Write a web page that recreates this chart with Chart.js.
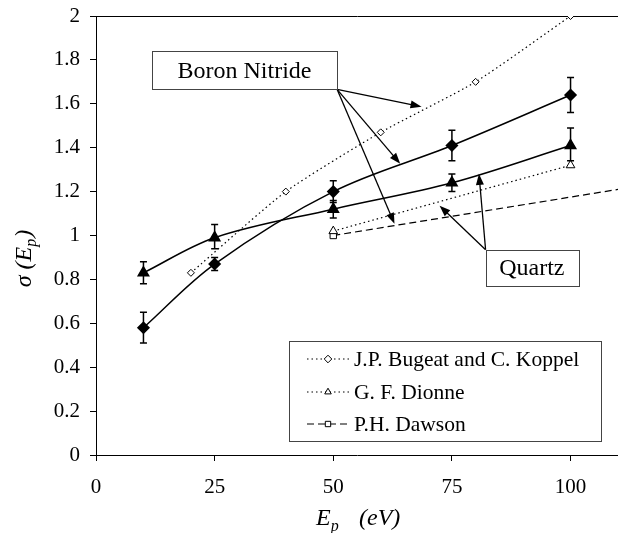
<!DOCTYPE html>
<html>
<head>
<meta charset="utf-8">
<script src="https://cdn.jsdelivr.net/npm/chart.js@4.4.1/dist/chart.umd.min.js"></script>
<style>
  html, body { margin: 0; padding: 0; background: #fff; }
  #wrap { width: 618px; height: 533px; }
</style>
</head>
<body>
<div id="wrap"><canvas id="chart" width="618" height="533"></canvas></div>
<script>
// measured data, E_p in eV
const bnX = [10, 25, 50, 75, 100];
const bnY = [0.58, 0.87, 1.20, 1.41, 1.64];
const bnLo = [0.51, 0.84, 1.15, 1.34, 1.56];
const bnHi = [0.65, 0.90, 1.25, 1.48, 1.72];

const qzX = [10, 25, 50, 75, 100];
const qzY = [0.83, 0.99, 1.12, 1.24, 1.41];
const qzLo = [0.78, 0.94, 1.08, 1.20, 1.34];
const qzHi = [0.88, 1.05, 1.16, 1.28, 1.49];

// literature
const bugeatX = [20, 40, 60, 80, 100];
const bugeatY = [0.83, 1.20, 1.47, 1.70, 2.00];
const dionneX = [50, 100];
const dionneY = [1.02, 1.32];
const dawsonX = [50, 110];
const dawsonY = [1.00, 1.21];

const xTicks = [0, 25, 50, 75, 100];

// annotation boxes and arrows (data units)
const bnBox = { x0: 11.8, x1: 50.8, y0: 1.84, y1: 1.666, text: 'Boron Nitride' };
const bnFrom = [50.8, 1.666];
const bnTips = [[68.6, 1.587], [64.1, 1.327], [62.9, 1.053]];
const qzBox = { x0: 82.1, x1: 101.6, y0: 0.935, y1: 0.769, text: 'Quartz' };
const qzFrom = [82.1, 0.935];
const qzTips = [[72.4, 1.136], [80.7, 1.281]];

const legendLabels = ['J.P. Bugeat and C. Koppel', 'G. F. Dionne', 'P.H. Dawson'];

function pts(xs, ys) {
    return xs.map(function(x, i) { return { x: x, y: ys[i] }; });
}

const SERIF = '"Liberation Serif", "Times New Roman", serif';

const errorBars = {
    id: 'errorBars',
    afterDatasetsDraw(chart) {
        const ctx = chart.ctx;
        const xs = chart.scales.x, ys = chart.scales.y;
        ctx.save();
        ctx.strokeStyle = '#000';
        ctx.lineWidth = 1.5;
        [[bnX, bnLo, bnHi], [qzX, qzLo, qzHi]].forEach(function(s) {
            s[0].forEach(function(x, i) {
                const px = xs.getPixelForValue(x);
                const lo = ys.getPixelForValue(s[1][i]);
                const hi = ys.getPixelForValue(s[2][i]);
                ctx.beginPath();
                ctx.moveTo(px, lo); ctx.lineTo(px, hi);
                ctx.moveTo(px - 3.5, lo); ctx.lineTo(px + 3.5, lo);
                ctx.moveTo(px - 3.5, hi); ctx.lineTo(px + 3.5, hi);
                ctx.stroke();
            });
        });
        ctx.restore();
    }
};

function arrow(ctx, x0, y0, x1, y1) {
    const a = Math.atan2(y1 - y0, x1 - x0);
    ctx.beginPath();
    ctx.moveTo(x0, y0);
    ctx.lineTo(x1 - 8 * Math.cos(a), y1 - 8 * Math.sin(a));
    ctx.stroke();
    ctx.beginPath();
    ctx.moveTo(x1, y1);
    ctx.lineTo(x1 - 11 * Math.cos(a) + 4 * Math.sin(a), y1 - 11 * Math.sin(a) - 4 * Math.cos(a));
    ctx.lineTo(x1 - 11 * Math.cos(a) - 4 * Math.sin(a), y1 - 11 * Math.sin(a) + 4 * Math.cos(a));
    ctx.closePath();
    ctx.fill();
}

const extras = {
    id: 'extras',
    afterDraw(chart) {
        const ctx = chart.ctx;
        const xs = chart.scales.x, ys = chart.scales.y;
        const X = function(v) { return xs.getPixelForValue(v); };
        const Y = function(v) { return ys.getPixelForValue(v); };
        ctx.save();

        // arrows
        ctx.strokeStyle = '#000';
        ctx.fillStyle = '#000';
        ctx.lineWidth = 1.3;
        bnTips.forEach(function(t) { arrow(ctx, X(bnFrom[0]), Y(bnFrom[1]), X(t[0]), Y(t[1])); });
        qzTips.forEach(function(t) { arrow(ctx, X(qzFrom[0]), Y(qzFrom[1]), X(t[0]), Y(t[1])); });

        // label boxes
        [bnBox, qzBox].forEach(function(b) {
            const l = X(b.x0), r = X(b.x1), t = Y(b.y0), bt = Y(b.y1);
            ctx.fillStyle = '#fff';
            ctx.fillRect(l, t, r - l, bt - t);
            ctx.strokeStyle = '#444';
            ctx.lineWidth = 1;
            ctx.strokeRect(Math.round(l) + 0.5, Math.round(t) + 0.5, Math.round(r - l), Math.round(bt - t));
            ctx.fillStyle = '#000';
            ctx.font = '24px ' + SERIF;
            ctx.textAlign = 'center';
            ctx.textBaseline = 'middle';
            ctx.fillText(b.text, (l + r) / 2, (t + bt) / 2 + 1);
        });

        // legend
        const lx = 289.5, ly = 341.5, lw = 312, lh = 100;
        ctx.fillStyle = '#fff';
        ctx.fillRect(lx, ly, lw, lh);
        ctx.strokeStyle = '#444';
        ctx.lineWidth = 1;
        ctx.strokeRect(lx, ly, lw, lh);
        const rows = [359, 392, 424];
        [0, 1, 2].forEach(function(i) {
            const ds = chart.data.datasets[i + 2];
            const yy = rows[i];
            ctx.strokeStyle = '#000';
            ctx.lineWidth = 1.2;
            ctx.setLineDash(ds.borderDash);
            ctx.beginPath();
            ctx.moveTo(307, yy); ctx.lineTo(350, yy);
            ctx.stroke();
            ctx.setLineDash([]);
            ctx.fillStyle = '#fff';
            ctx.strokeStyle = '#000';
            ctx.lineWidth = 1;
            Chart.helpers.drawPoint(ctx, {
                pointStyle: ds.pointStyle, radius: 3.8, rotation: 0, borderWidth: 1
            }, 328, yy);
            ctx.fillStyle = '#000';
            ctx.font = '21.5px ' + SERIF;
            ctx.textAlign = 'left';
            ctx.textBaseline = 'middle';
            ctx.fillText(legendLabels[i], 354, yy + 1);
        });

        // axis titles with subscripts
        ctx.fillStyle = '#000';
        ctx.textBaseline = 'alphabetic';
        ctx.textAlign = 'left';
        const big = 'italic 24px ' + SERIF, small = 'italic 16px ' + SERIF;
        ctx.font = big;
        const w1 = ctx.measureText('E').width;
        ctx.fillText('E', 316, 525);
        ctx.font = small; ctx.fillText('p', 316 + w1, 531);
        ctx.font = big; ctx.fillText('(eV)', 359, 525);

        ctx.translate(31, 259);
        ctx.rotate(-Math.PI / 2);
        ctx.font = big;
        const a1 = ctx.measureText('\u03c3 (E').width;
        const a3 = ctx.measureText(')').width;
        ctx.font = small;
        const a2 = ctx.measureText('p').width;
        let sx = -(a1 + a2 + a3) / 2;
        ctx.font = big; ctx.fillText('\u03c3 (E', sx, 0);
        ctx.font = small; ctx.fillText('p', sx + a1, 5);
        ctx.font = big; ctx.fillText(')', sx + a1 + a2 + 1, 0);
        ctx.restore();
    }
};

new Chart(document.getElementById('chart'), {
    type: 'scatter',
    data: {
        datasets: [
            {
                label: 'Boron Nitride', data: pts(bnX, bnY), showLine: true,
                borderColor: '#000', borderWidth: 1.5, tension: 0.35,
                pointStyle: 'rectRot', pointRadius: 5.5, backgroundColor: '#000', pointBorderColor: '#000'
            },
            {
                label: 'Quartz', data: pts(qzX, qzY), showLine: true,
                borderColor: '#000', borderWidth: 1.5, tension: 0.35,
                pointStyle: 'triangle', pointRadius: 6, backgroundColor: '#000', pointBorderColor: '#000'
            },
            {
                label: legendLabels[0], data: pts(bugeatX, bugeatY), showLine: true,
                borderColor: '#000', borderWidth: 1.2, borderDash: [1.5, 3], tension: 0.2,
                pointStyle: 'rectRot', pointRadius: 3.5, backgroundColor: '#fff', pointBorderColor: '#000', pointBorderWidth: 1
            },
            {
                label: legendLabels[1], data: pts(dionneX, dionneY), showLine: true,
                borderColor: '#000', borderWidth: 1.2, borderDash: [1.5, 3],
                pointStyle: 'triangle', pointRadius: 5, backgroundColor: '#fff', pointBorderColor: '#000', pointBorderWidth: 1
            },
            {
                label: legendLabels[2], data: pts(dawsonX, dawsonY), showLine: true,
                borderColor: '#000', borderWidth: 1.2, borderDash: [7, 4],
                pointStyle: 'rect', pointRadius: [4.5, 0], backgroundColor: '#fff', pointBorderColor: '#000', pointBorderWidth: 1
            }
        ]
    },
    options: {
        responsive: false,
        animation: false,
        layout: { autoPadding: false, padding: { top: 16, right: 0, bottom: 0, left: 0 } },
        plugins: { legend: { display: false }, tooltip: { enabled: false } },
        scales: {
            x: {
                type: 'linear', min: 0, max: 110,
                ticks: { stepSize: 25, color: '#000', font: { family: SERIF, size: 21 }, padding: 14, maxRotation: 0 },
                afterBuildTicks: function(s) { s.ticks = xTicks.map(function(v) { return { value: v }; }); },
                afterFit: function(s) { s.height = 78; s.paddingLeft = 0; s.paddingRight = 0; },
                grid: { drawOnChartArea: false, tickLength: 6, tickColor: '#000' },
                border: { color: '#000', width: 1 }
            },
            y: {
                min: 0, max: 2,
                ticks: { stepSize: 0.2, color: '#000', font: { family: SERIF, size: 21 }, padding: 10,
                    callback: function(v) { return Math.round(v * 10) / 10; } },
                afterFit: function(s) { s.width = 96; s.paddingTop = 0; s.paddingBottom = 0; },
                grid: {
                    tickLength: 6, tickColor: '#000',
                    color: function(c) { return c.tick && Math.abs(c.tick.value - 2) < 1e-6 ? '#000' : 'rgba(0,0,0,0)'; }
                },
                border: { color: '#000', width: 1 }
            }
        }
    },
    plugins: [errorBars, extras]
});
</script>
</body>
</html>
